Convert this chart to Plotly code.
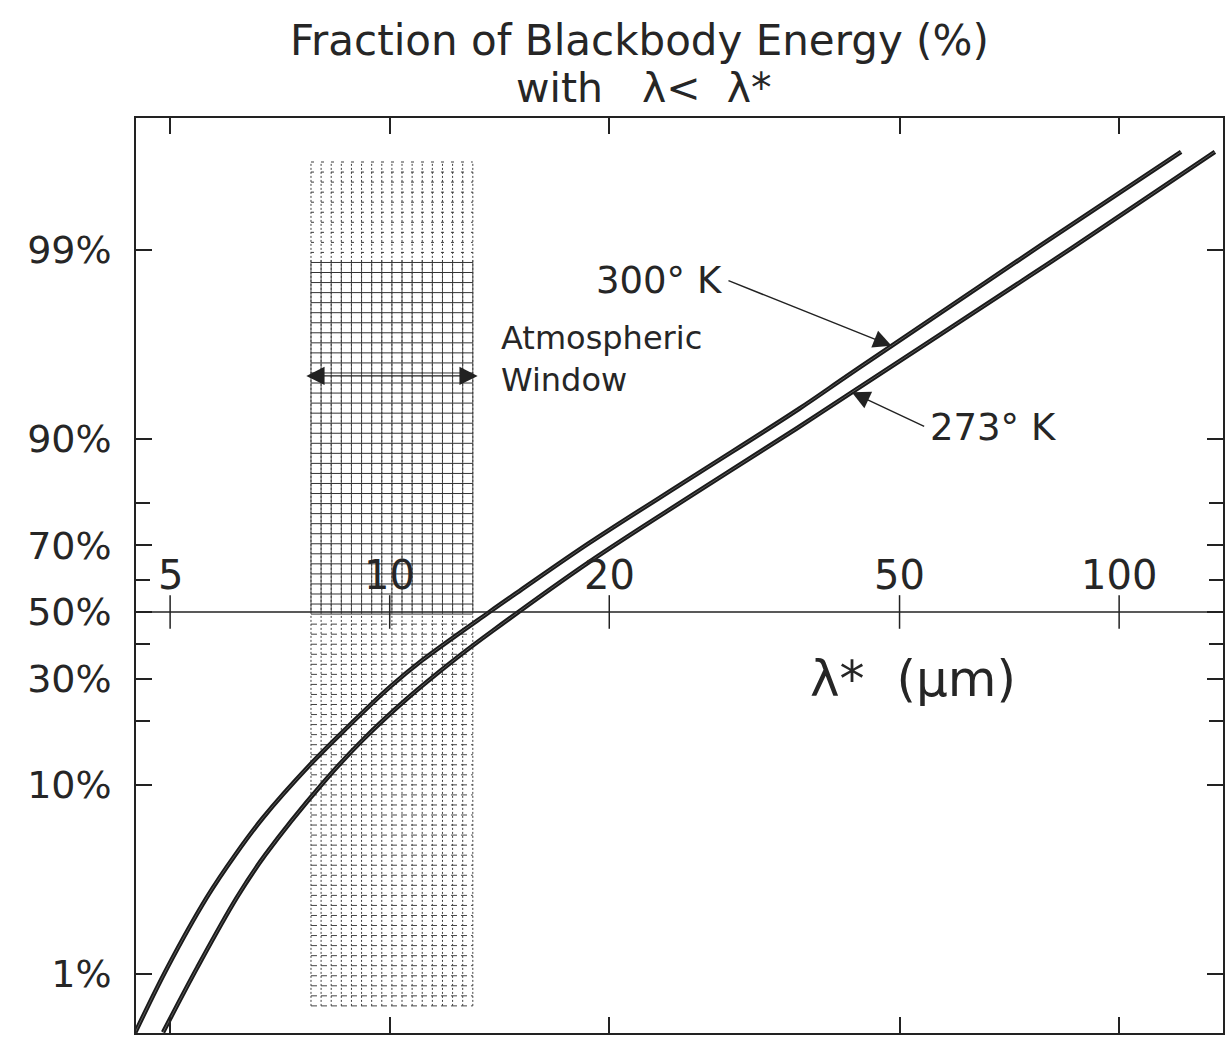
import numpy as np
import plotly.graph_objects as go

# ---- data -------------------------------------------------------------
# Cumulative blackbody energy fraction (%) below wavelength lambda* (um)
wl_300 = [4.48, 4.96, 5.62, 6.14, 6.70, 7.77, 8.73, 10.0, 11.09, 13.7, 15.06,
          18.78, 25.97, 36.38, 42.19, 48.76, 78.2, 121.6]
pct_300 = [0.48, 1.09, 2.62, 4.38, 6.82, 12.54, 18.66, 27.8, 35.2, 50.0, 56.6,
           70.6, 84.7, 92.93, 95.18, 96.7, 99.06, 99.71]

wl_273 = [4.89, 5.45, 6.18, 6.75, 8.10, 9.19, 10.55, 12.35, 13.83, 18.78,
          25.97, 36.04, 43.0, 75.1, 86.0, 135.3]
pct_273 = [0.48, 1.09, 2.62, 4.38, 10.25, 16.5, 24.9, 35.8, 44.0, 65.4,
           81.5, 91.07, 94.2, 98.6, 99.02, 99.71]

x_ticks = [5, 10, 20, 50, 100]
x_tick_labels = ["5", "10", "20", "50", "100"]
y_ticks_pct = [1, 10, 30, 50, 70, 90, 99]
y_tick_labels = ["1%", "10%", "30%", "50%", "70%", "90%", "99%"]
y_minor_pct = [20, 40, 60, 80]

# atmospheric window (um) and its shaded extent (%)
window_um = [7.8, 13.0]
window_arrow_um = [7.65, 13.2]
window_arrow_pct = 95.24
hatch_pct = [0.67, 99.67]
hatch_dense_pct = [50.0, 98.86]

# label anchors
tail_300 = (29.0, 98.54)
tail_273 = (54.3, 91.27)

# ---- helpers ----------------------------------------------------------
def logit(p):
    p = np.asarray(p, dtype=float) / 100.0
    return np.log(p / (1.0 - p))

LX = np.log10
INK = "#222222"
TXT = "#262626"
FONT = "DejaVu Sans"

x_range = [0.6522, 2.1424]
y_range = [-5.343, 6.269]

fig = go.Figure()

# ---- shaded window: graph-paper style crosshatch ----------------------
hatch_cols = 17
hatch_rows = 85
xv = np.logspace(LX(window_um[0]), LX(window_um[1]), hatch_cols)
y_lo, y_hi = float(logit(hatch_pct[0])), float(logit(hatch_pct[1]))
d_lo, d_hi = float(logit(hatch_dense_pct[0])), float(logit(hatch_dense_pct[1]))
rows = np.linspace(y_lo, y_hi, hatch_rows)


def segs_v(xs, y0, y1):
    X, Y = [], []
    for x in xs:
        X += [x, x, None]
        Y += [y0, y1, None]
    return X, Y


def segs_h(ys, x0, x1):
    X, Y = [], []
    for y in ys:
        X += [x0, x1, None]
        Y += [y, y, None]
    return X, Y


def add_lines(X, Y, color, width, dash="solid"):
    fig.add_trace(go.Scatter(x=X, y=Y, mode="lines",
                             line=dict(color=color, width=width, dash=dash),
                             hoverinfo="skip", showlegend=False))


# dotted verticals over the whole window
X, Y = segs_v(xv, y_lo, y_hi)
add_lines(X, Y, "#404040", 1, "2px,2px")
# upper light rows (crosses only)
X, Y = segs_h(rows[rows > d_hi + 0.05], window_um[0], window_um[1])
add_lines(X, Y, "#3a3a3a", 1, "3px,7px")
# lower rows, dashed
X, Y = segs_h(rows[rows < d_lo - 0.05], window_um[0], window_um[1])
add_lines(X, Y, "#444444", 1, "6px,4px")
# dense band: solid grid
X, Y = segs_v(xv, d_lo, d_hi)
add_lines(X, Y, "#3a3a3a", 0.9)
X, Y = segs_h(rows[(rows >= d_lo - 0.05) & (rows <= d_hi + 0.05)], window_um[0], window_um[1])
add_lines(X, Y, "#333333", 1)

# ---- curves (double-stroke pen line) ----------------------------------
for wl, pct in ((wl_300, pct_300), (wl_273, pct_273)):
    fig.add_trace(go.Scatter(x=wl, y=logit(pct), mode="lines",
                             line=dict(color="#1a1a1a", width=4.5, shape="spline", smoothing=1.0),
                             hoverinfo="skip", showlegend=False))
    fig.add_trace(go.Scatter(x=wl, y=logit(pct), mode="lines",
                             line=dict(color="#5a5a5a", width=1.0, shape="spline", smoothing=1.0),
                             hoverinfo="skip", showlegend=False))

# ---- 50% baseline with crossing ticks ---------------------------------
fig.add_shape(type="line", xref="paper", x0=0, x1=1, yref="y", y0=0, y1=0,
              line=dict(color=INK, width=1.6))
fig.add_trace(go.Scatter(x=x_ticks, y=[0] * len(x_ticks), mode="markers",
                         marker=dict(symbol="line-ns", size=24,
                                     line=dict(color=INK, width=1.5)),
                         hoverinfo="skip", showlegend=False))

annotations = []
for v, t in zip(x_ticks, x_tick_labels):
    annotations.append(dict(x=LX(v), y=0, xref="x", yref="y", text=t,
                            showarrow=False, yanchor="middle", yshift=37,
                            font=dict(family=FONT, size=40, color=TXT)))

# axis title
annotations.append(dict(x=1.718, y=-0.85, xref="x", yref="y",
                        text="λ*  (μm)", showarrow=False,
                        font=dict(family=FONT, size=50, color=TXT)))

# atmospheric window label and arrow
annotations.append(dict(x=1.1505, y=3.21, xref="x", yref="y",
                        text="Atmospheric<br>Window", showarrow=False,
                        xanchor="left", align="left",
                        font=dict(family=FONT, size=32, color=TXT)))
wa_y = float(logit(window_arrow_pct))
annotations.append(dict(x=LX(window_arrow_um[1]), y=wa_y, xref="x", yref="y",
                        ax=LX(window_arrow_um[0]), ay=wa_y, axref="x", ayref="y",
                        text="", showarrow=True, arrowside="end+start",
                        arrowhead=2, arrowsize=2.6, arrowwidth=1.4,
                        arrowcolor=INK, standoff=0, startstandoff=0))

# curve labels with pointer arrows
for tip, tail, label, side in (((wl_300[15], pct_300[15]), tail_300, "300° K", "right"),
                               ((wl_273[12], pct_273[12]), tail_273, "273° K", "left")):
    annotations.append(dict(x=LX(tip[0]), y=float(logit(tip[1])), xref="x", yref="y",
                            ax=LX(tail[0]), ay=float(logit(tail[1])),
                            axref="x", ayref="y", text="", showarrow=True,
                            arrowhead=2, arrowsize=2.6, arrowwidth=1.4,
                            arrowcolor=INK, standoff=0, startstandoff=0))
    annotations.append(dict(x=LX(tail[0]), y=float(logit(tail[1])), xref="x", yref="y",
                            text=label, showarrow=False, xanchor=side,
                            xshift=-2 if side == "right" else 2,
                            font=dict(family=FONT, size=37, color=TXT)))

# title (two lines)
annotations.append(dict(x=0.4628, y=1.0842, xref="paper", yref="paper",
                        text="Fraction of Blackbody Energy (%)", showarrow=False,
                        yanchor="middle",
                        font=dict(family=FONT, size=42, color=TXT)))
annotations.append(dict(x=0.4673, y=1.0328, xref="paper", yref="paper",
                        text="with   λ<  λ*", showarrow=False,
                        yanchor="middle",
                        font=dict(family=FONT, size=41, color=TXT)))

fig.update_layout(
    width=1227, height=1037,
    margin=dict(l=136, r=2, t=118, b=4),
    paper_bgcolor="white", plot_bgcolor="white",
    annotations=annotations,
    xaxis=dict(type="log", range=x_range, tickvals=x_ticks, showticklabels=False,
               ticks="inside", ticklen=16, tickwidth=1.5, tickcolor=INK,
               showline=True, linecolor=INK, linewidth=1.5, mirror="ticks",
               showgrid=False, zeroline=False),
    yaxis=dict(range=y_range, tickvals=list(logit(y_ticks_pct)), ticktext=y_tick_labels,
               ticks="inside", ticklen=16, tickwidth=1.5, tickcolor=INK,
               showline=True, linecolor=INK, linewidth=1.5, mirror="ticks",
               showgrid=False, zeroline=False, ticklabelstandoff=15,
               tickfont=dict(family=FONT, size=38, color=TXT),
               minor=dict(tickvals=list(logit(y_minor_pct)), ticks="inside",
                          ticklen=14, tickwidth=1.5, tickcolor=INK, showgrid=False)),
)

fig.write_html("out.html")
